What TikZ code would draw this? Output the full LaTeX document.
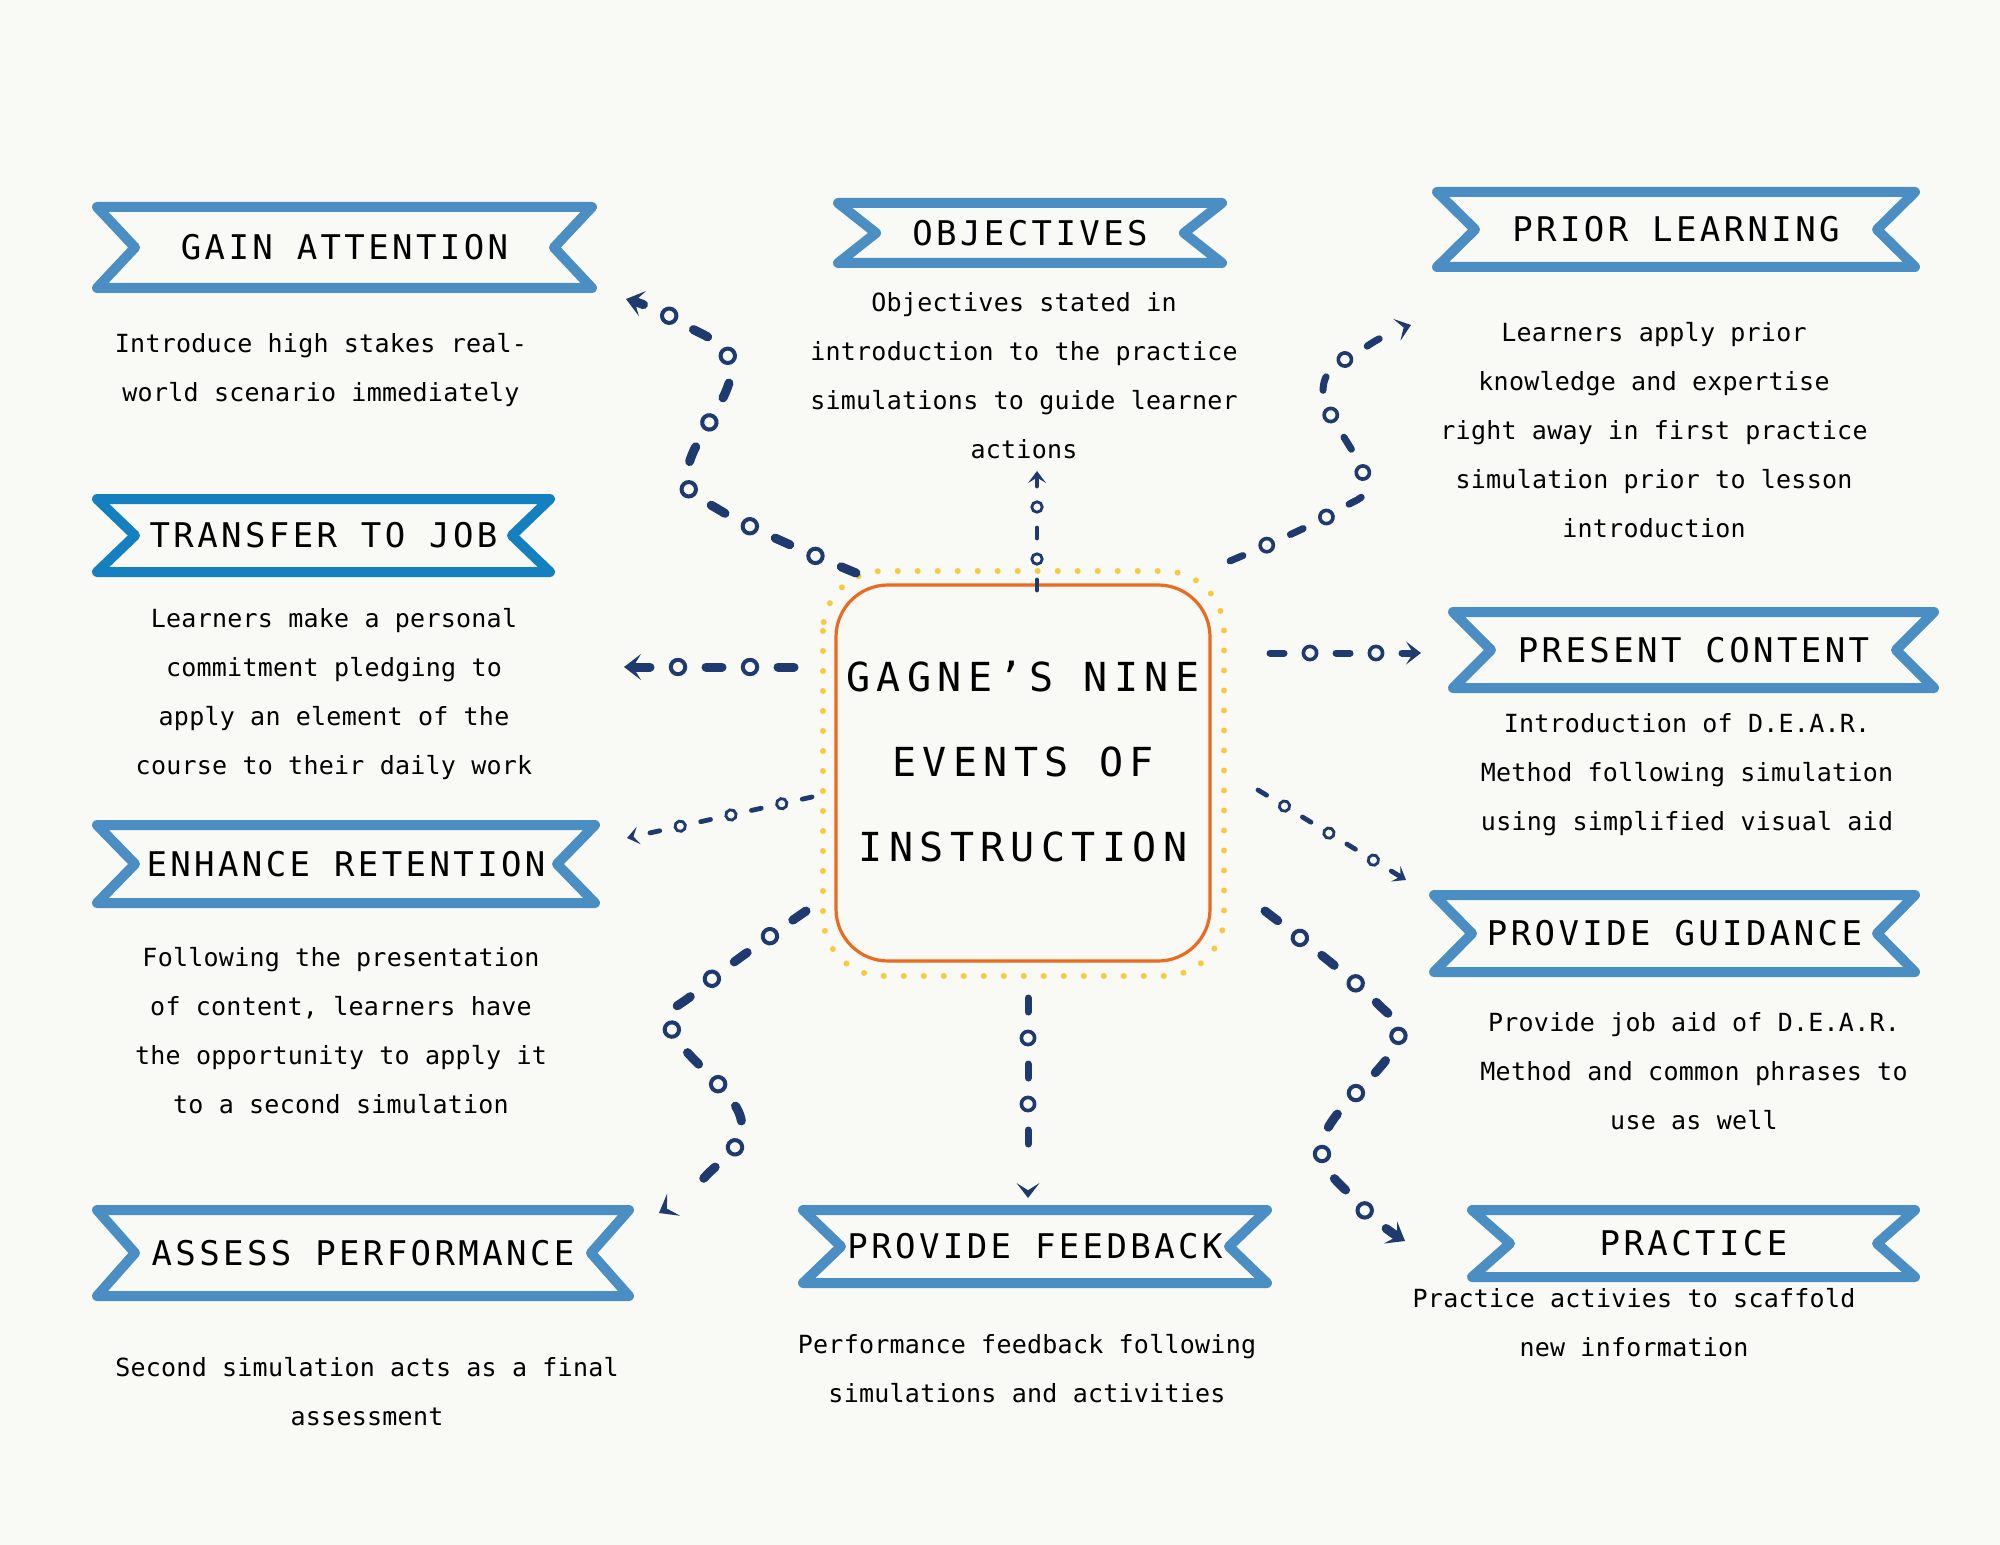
\documentclass[tikz,border=0pt]{standalone}
\usepackage{fontspec}
\usepackage{tikz}
\usetikzlibrary{arrows.meta,decorations.markings}

\newfontfamily\titlefont{DejaVu Sans Mono}[LetterSpace=10]
\newfontfamily\bodyfont{DejaVu Sans Mono}[LetterSpace=1]
\newfontfamily\corefont{DejaVu Sans Mono}[LetterSpace=16]

\definecolor{paper}{HTML}{F9F9F5}
\definecolor{inkblue}{HTML}{1E3A6E}
\definecolor{ribbonblue}{HTML}{4A8EC4}
\definecolor{ribbondark}{HTML}{1480C0}
\definecolor{boxorange}{HTML}{EC6A1E}
\definecolor{dotyellow}{HTML}{FBC93D}

\tikzset{
  band/.style={line width=5pt, line join=round, line cap=round},
  ribbon/.style={inner sep=0pt, outer sep=0pt, font=\titlefont\fontsize{17}{20}\selectfont},
  note/.style={align=center, inner sep=0pt, font=\bodyfont\fontsize{12.5}{24.5}\selectfont},
  core/.style={draw=boxorange, line width=1.6pt, rounded corners=26pt, inner sep=0pt, text depth=12pt,
    minimum width=187pt, minimum height=188pt, align=center,
    font=\corefont\fontsize{20}{42.5}\selectfont},
  bigline/.style={inkblue, line width=4.5pt, line cap=round, dash pattern=on 8pt off 28pt,
    -{Stealth[length=8.5pt,width=13pt,inset=4pt,line width=0pt]},
    postaction={decorate,decoration={markings,
      mark=between positions 22pt and -17pt step 36pt with {\draw[inkblue,solid,line width=2pt] (0,0) circle (3.6pt);}}}},
  midline/.style={inkblue, line width=3.5pt, line cap=round, dash pattern=on 7pt off 26pt,
    -{Stealth[length=7.5pt,width=11.5pt,inset=3.6pt,line width=0pt]},
    postaction={decorate,decoration={markings,
      mark=between positions 20pt and -15pt step 33pt with {\draw[inkblue,solid,line width=1.8pt] (0,0) circle (3.3pt);}}}},
  thinline/.style={inkblue, line width=2.4pt, line cap=round, dash pattern=on 5pt off 21pt,
    -{Stealth[length=6pt,width=9pt,inset=2.7pt,line width=0pt]},
    postaction={decorate,decoration={markings,
      mark=between positions 15.5pt and -11pt step 26pt with {\draw[inkblue,solid,line width=1.4pt] (0,0) circle (2.6pt);}}}}
}

\begin{document}
\begin{tikzpicture}[x=0.5pt, y=-0.5pt]
  \fill[paper] (0,0) rectangle (2000,1545);
  \useasboundingbox (0,0) rectangle (2000,1545);
  % 中心框
  \draw[dotyellow, line width=3pt, line cap=round, dash pattern=on 0pt off 10pt, rounded corners=30pt] (823,571) rectangle (1224,976);
  \node[core] (core) at (1023,773) {GAGNE’S NINE\\EVENTS OF\\INSTRUCTION};
  % 标题带
  \node[ribbon, minimum width=247.5pt, minimum height=40.5pt] (gain) at (344.5,247.5) {GAIN ATTENTION};
  \node[ribbon, minimum width=192pt, minimum height=30pt] (obj) at (1030,233) {OBJECTIVES};
  \node[ribbon, minimum width=239pt, minimum height=37.5pt] (prior) at (1676,229.5) {PRIOR LEARNING};
  \node[ribbon, minimum width=226.5pt, minimum height=36.5pt] (transfer) at (323.5,535.5) {TRANSFER TO JOB};
  \node[ribbon, minimum width=240.5pt, minimum height=38pt] (present) at (1693.5,650) {PRESENT CONTENT};
  \node[ribbon, minimum width=249pt, minimum height=39pt] (enhance) at (346,864) {ENHANCE RETENTION};
  \node[ribbon, minimum width=240.5pt, minimum height=38.5pt] (guidance) at (1674.5,933.5) {PROVIDE GUIDANCE};
  \node[ribbon, minimum width=266pt, minimum height=43pt] (assess) at (363,1253) {ASSESS PERFORMANCE};
  \node[ribbon, minimum width=232pt, minimum height=36.5pt] (feedback) at (1035,1246.5) {PROVIDE FEEDBACK};
  \node[ribbon, minimum width=221.5pt, minimum height=33.5pt] (practice) at (1693.5,1243.5) {PRACTICE};
  \foreach \r/\c in {gain/ribbonblue, obj/ribbonblue, prior/ribbonblue, transfer/ribbondark, present/ribbonblue,
      enhance/ribbonblue, guidance/ribbonblue, assess/ribbonblue, feedback/ribbonblue, practice/ribbonblue}
    \draw[band, \c] (\r.north west) -- (\r.north east) -- ([xshift=-19pt]\r.east) -- (\r.south east)
      -- (\r.south west) -- ([xshift=19pt]\r.west) -- cycle;
  % 说明文字
  \node[note] (gaintxt) at (321,370) {Introduce high stakes real-\\world scenario immediately};
  \node[note] (objtxt) at (1024,376) {Objectives stated in\\introduction to the practice\\simulations to guide learner\\actions};
  \node[note] (priortxt) at (1654,430) {Learners apply prior\\knowledge and expertise\\right away in first practice\\simulation prior to lesson\\introduction};
  \node[note] (transfertxt) at (334,694) {Learners make a personal\\commitment pledging to\\apply an element of the\\course to their daily work};
  \node[note] (presenttxt) at (1687,775) {Introduction of D.E.A.R.\\Method following simulation\\using simplified visual aid};
  \node[note] (enhancetxt) at (341,1031) {Following the presentation\\of content, learners have\\the opportunity to apply it\\to a second simulation};
  \node[note] (guidancetxt) at (1694,1071.5) {Provide job aid of D.E.A.R.\\Method and common phrases to\\use as well};
  \node[note] (assesstxt) at (367,1392) {Second simulation acts as a final\\assessment};
  \node[note] (feedbacktxt) at (1027,1369) {Performance feedback following\\simulations and activities};
  \node[note] (practicetxt) at (1634,1323) {Practice activies to scaffold\\new information};
  % 连线
  \coordinate (gainS) at (856,573);      \coordinate (gainE) at (626,299);
  \coordinate (objS) at (1037,590);      \coordinate (objE) at (1037,471);
  \coordinate (priorS) at (1230,561);    \coordinate (priorE) at (1411,325);
  \coordinate (transferS) at (794,667);  \coordinate (transferE) at (624,667);
  \coordinate (presentS) at (1270,653);  \coordinate (presentE) at (1421,653);
  \coordinate (enhanceS) at (812,797);   \coordinate (enhanceE) at (627,838);
  \coordinate (guidanceS) at (1258,790); \coordinate (guidanceE) at (1406,880);
  \coordinate (assessS) at (806,911);    \coordinate (assessE) at (659,1213);
  \coordinate (feedbackS) at (1028,998); \coordinate (feedbackE) at (1028,1198);
  \coordinate (practiceS) at (1265,911); \coordinate (practiceE) at (1405,1241);
  \draw[bigline] plot[smooth, tension=0.7] coordinates {(gainS) (721,511) (688,470) (731,369) (680,322) (gainE)};
  \draw[thinline] (objS) -- (objE);
  \draw[midline] plot[smooth, tension=0.7] coordinates {(priorS) (1337,511) (1364,478) (1323,390) (1366,347) (priorE)};
  \draw[bigline] (transferS) -- (transferE);
  \draw[midline] (presentS) -- (presentE);
  \draw[thinline] (enhanceS) -- (enhanceE);
  \draw[thinline] (guidanceS) -- (guidanceE);
  \draw[bigline] plot[smooth, tension=0.7] coordinates {(assessS) (697,991) (672,1030) (741,1119) (704,1178) (assessE)};
  \draw[midline] (feedbackS) -- (feedbackE);
  \draw[bigline] plot[smooth, tension=0.7] coordinates {(practiceS) (1376,1002) (1395,1045) (1323,1140) (1358,1203) (practiceE)};
\end{tikzpicture}
\end{document}
